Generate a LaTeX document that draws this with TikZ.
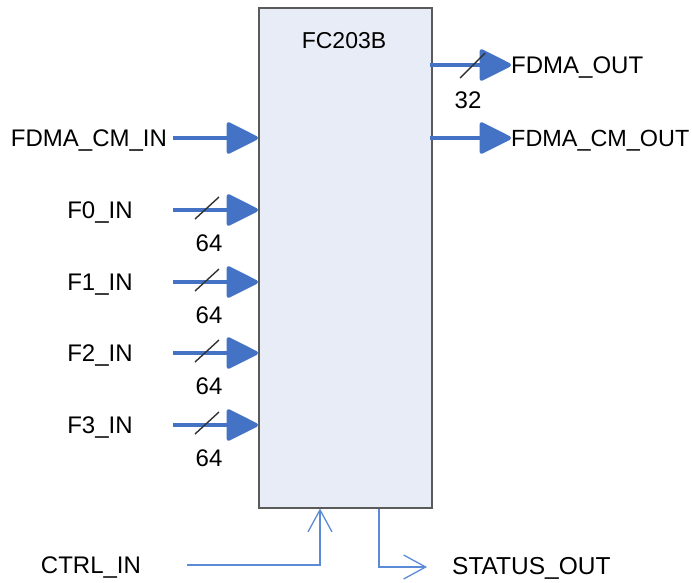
\documentclass[tikz,border=0pt]{standalone}
\usepackage{fontspec}
\setmainfont{Liberation Sans}
\usetikzlibrary{arrows.meta}
\definecolor{busblue}{RGB}{68,114,196}
\definecolor{sigblue}{RGB}{91,139,214}
\definecolor{boxfill}{RGB}{232,236,246}
\definecolor{boxline}{RGB}{90,90,90}
\tikzset{
  lbl/.style={inner sep=0pt, text height=17pt, text depth=0pt, font=\fontsize{24pt}{28pt}\selectfont},
  bus/.style={draw=busblue, line width=4pt, -{Triangle[length=34pt,width=33pt,round]}},
  sig/.style={draw=sigblue, line width=1.3pt, -{Straight Barb[length=22pt,width=24pt,line width=1.3pt]}},
  slash/.style={draw=black!80, line width=1.4pt},
  chip/.style={draw=boxline, line width=1.5pt, fill=boxfill, inner sep=0pt, anchor=north west,
    minimum width=173pt, minimum height=500pt}
}
\begin{document}
\begin{tikzpicture}[x=1pt,y=-1pt]
\useasboundingbox (0,0) rectangle (692,582);

% main block
\node[chip] (box) at (258,7) {};
\node[lbl, font=\fontsize{23pt}{27pt}\selectfont] (title) at (344,40) {FC203B};

% bus inputs
\node[lbl] (cmin) at (89,138) {FDMA\_CM\_IN};
\node[lbl] (f0) at (100,210) {F0\_IN};
\node[lbl] (f1) at (100,282) {F1\_IN};
\node[lbl] (f2) at (100,353) {F2\_IN};
\node[lbl] (f3) at (100,425) {F3\_IN};

\coordinate (cmins) at (173,138);
\coordinate (f0s) at (173,210);
\coordinate (f1s) at (173,282);
\coordinate (f2s) at (173,353);
\coordinate (f3s) at (173,425);

\draw[bus] (cmins) -- (cmins -| box.west);
\foreach \n/\y in {f0/210,f1/282,f2/353,f3/425}{
  \draw[bus] (\n s) -- (\n s -| box.west);
  \draw[slash] (195,\y+9) -- (219,\y-13);
}
\node[lbl] (w0) at (209,243) {64};
\node[lbl] (w1) at (209,315) {64};
\node[lbl] (w2) at (209,386) {64};
\node[lbl] (w3) at (209,458) {64};

% bus outputs
\coordinate (outs) at (box.east |- 0,65);
\coordinate (cmouts) at (box.east |- 0,138);
\node[lbl, anchor=west] (out) at (511,65) {FDMA\_OUT};
\node[lbl, anchor=west, font=\fontsize{23.4pt}{27pt}\selectfont] (cmout) at (511,138) {FDMA\_CM\_OUT};
\draw[bus] ([xshift=-3pt]outs) -- (out.west);
\draw[bus] ([xshift=-3pt]cmouts) -- (cmout.west);
\draw[slash] (460,78) -- (485,53);
\node[lbl] (w4) at (468,100) {32};

% control and status
\node[lbl] (ctrl) at (91,565) {CTRL\_IN};
\coordinate (ctrls) at (187,565);
\draw[sig] (ctrls) -- (320,565) -- (box.south -| 320,0);
\node[lbl, anchor=west, font=\fontsize{24.5pt}{28pt}\selectfont] (status) at (452,566) {STATUS\_OUT};
\coordinate (statend) at (427,567);
\draw[sig] (box.south -| 379,0) -- (379,567) -- (statend);
\end{tikzpicture}
\end{document}
